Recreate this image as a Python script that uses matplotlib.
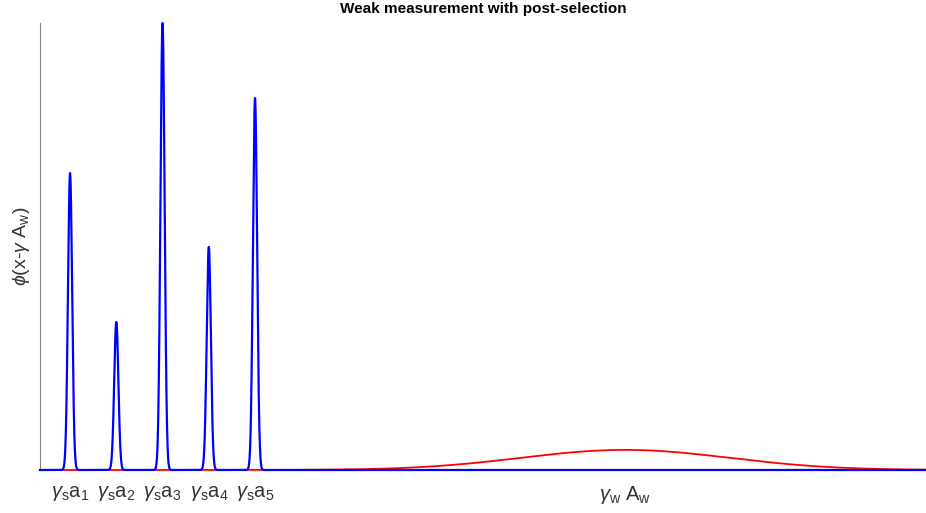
import numpy as np
import matplotlib
matplotlib.use('Agg')
from matplotlib import pyplot as plt

plt.rcParams['font.family'] = ['Liberation Sans', 'DejaVu Sans']
plt.rcParams['mathtext.fontset'] = 'custom'
plt.rcParams['mathtext.rm'] = 'Liberation Sans'
plt.rcParams['mathtext.it'] = 'Liberation Sans:italic'

# strong measurement peaks (eigenvalues a_i) and weak-value pointer
peak_pos = [1, 2, 3, 4, 5]
peak_amp = [0.664, 0.331, 1.0, 0.499, 0.832]
sigma_strong = 0.045
weak_pos = 13.0
weak_amp = 0.045
sigma_weak = 2.25
tick_labels = [r'$\gamma_\mathrm{s}\mathrm{a}_1$', r'$\gamma_\mathrm{s}\mathrm{a}_2$',
               r'$\gamma_\mathrm{s}\mathrm{a}_3$', r'$\gamma_\mathrm{s}\mathrm{a}_4$',
               r'$\gamma_\mathrm{s}\mathrm{a}_5$', r'$\gamma_\mathrm{w}\ \mathrm{A}_\mathrm{w}$']

x = np.linspace(0.35, 19.51, 20000)
strong = np.zeros_like(x)
for p, a in zip(peak_pos, peak_amp):
    strong += a*np.exp(-(x-p)**2/(2*sigma_strong**2))
weak = weak_amp*np.exp(-(x-weak_pos)**2/(2*sigma_weak**2))

fig = plt.figure(figsize=(9.26, 5.13), dpi=100)
ax = fig.add_axes([40/926, 1-470/513, 886/926, 447/513])
ax.plot(x, strong, color='blue', lw=1.6, clip_on=False, zorder=3)
ax.plot(x, weak, color='red', lw=1.3, clip_on=False, zorder=2)
ax.set_xlim(0.35, 19.51)
ax.set_ylim(0, 1.0)
ax.set_xticks(peak_pos + [weak_pos])
ax.set_xticklabels(tick_labels, fontsize=14.5, color='#333333')
ax.tick_params(axis='x', length=0, pad=10)
ax.set_yticks([])
for s in ['top', 'right', 'bottom']:
    ax.spines[s].set_visible(False)
ax.spines['left'].set_color('#808080')
ax.set_ylabel(r'$\phi\mathrm{(x}$-$\gamma\ \mathrm{A}_\mathrm{w}\mathrm{)}$', fontsize=14, color='#333333', labelpad=6)
ax.set_title('Weak measurement with post-selection', fontsize=11, fontweight='bold', pad=7)
fig.savefig('out.png', dpi=100)
